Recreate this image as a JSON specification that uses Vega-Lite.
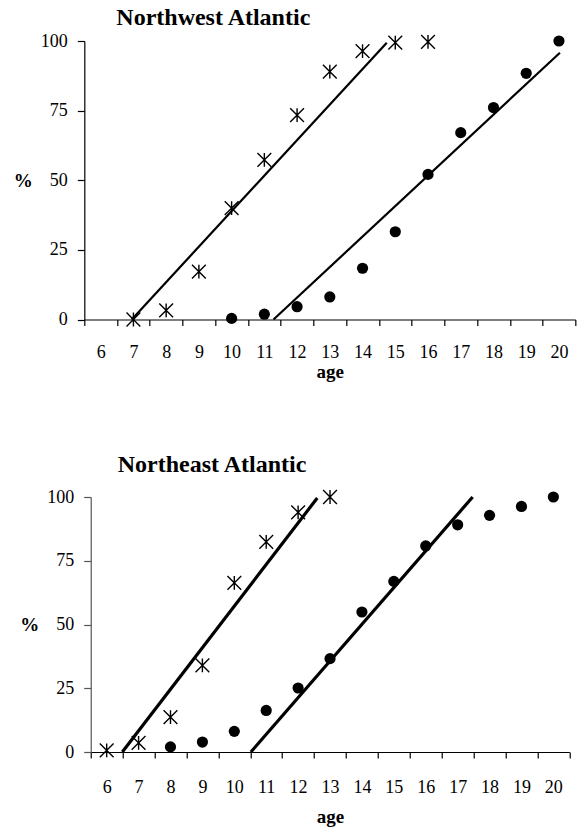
{
  "$schema": "https://vega.github.io/schema/vega-lite/v6.json",
  "background": "white",
  "padding": {"left": 13, "top": 6, "right": 2, "bottom": 2},
  "spacing": 71,
  "center": true,
  "config": {
    "font": "Liberation Serif",
    "view": {"stroke": null},
    "axis": {
      "grid": false,
      "domainColor": "black",
      "tickColor": "black",
      "domainWidth": 1.2,
      "tickWidth": 1.2,
      "labelFont": "Liberation Serif",
      "labelFontSize": 18,
      "labelFontWeight": "normal",
      "labelColor": "black",
      "titleFont": "Liberation Serif",
      "titleFontSize": 19,
      "titleFontWeight": "bold",
      "titleColor": "black"
    },
    "title": {"font": "Liberation Serif", "fontSize": 24, "fontWeight": "bold", "color": "black", "anchor": "start", "frame": "group"}
  },
  "datasets": {
    "nw": [
      {"series": "star", "age": 7, "pct": 0},
      {"series": "star", "age": 8, "pct": 3.3},
      {"series": "star", "age": 9, "pct": 17.2},
      {"series": "star", "age": 10, "pct": 40},
      {"series": "star", "age": 11, "pct": 57.3},
      {"series": "star", "age": 12, "pct": 73.4},
      {"series": "star", "age": 13, "pct": 89},
      {"series": "star", "age": 14, "pct": 96.4},
      {"series": "star", "age": 15, "pct": 99.4},
      {"series": "star", "age": 16, "pct": 99.7},
      {"series": "dot", "age": 10, "pct": 0.4},
      {"series": "dot", "age": 11, "pct": 1.9},
      {"series": "dot", "age": 12, "pct": 4.6},
      {"series": "dot", "age": 13, "pct": 8.1},
      {"series": "dot", "age": 14, "pct": 18.4},
      {"series": "dot", "age": 15, "pct": 31.5},
      {"series": "dot", "age": 16, "pct": 52.1},
      {"series": "dot", "age": 17, "pct": 67.1},
      {"series": "dot", "age": 18, "pct": 76.1},
      {"series": "dot", "age": 19, "pct": 88.4},
      {"series": "dot", "age": 20, "pct": 100}
    ],
    "nwfit": [
      {"series": "star", "age": 6.95, "pct": 0},
      {"series": "star", "age": 14.74, "pct": 99.4},
      {"series": "dot", "age": 11.28, "pct": 0},
      {"series": "dot", "age": 20.03, "pct": 95.8}
    ],
    "ne": [
      {"series": "star", "age": 6, "pct": 0.6},
      {"series": "star", "age": 7, "pct": 3.6},
      {"series": "star", "age": 8, "pct": 13.7},
      {"series": "star", "age": 9, "pct": 34},
      {"series": "star", "age": 10, "pct": 66.3},
      {"series": "star", "age": 11, "pct": 82.4},
      {"series": "star", "age": 12, "pct": 94},
      {"series": "star", "age": 13, "pct": 100},
      {"series": "dot", "age": 8, "pct": 2},
      {"series": "dot", "age": 9, "pct": 3.9},
      {"series": "dot", "age": 10, "pct": 8.1},
      {"series": "dot", "age": 11, "pct": 16.3},
      {"series": "dot", "age": 12, "pct": 25.1},
      {"series": "dot", "age": 13, "pct": 36.6},
      {"series": "dot", "age": 14, "pct": 54.9},
      {"series": "dot", "age": 15, "pct": 66.9},
      {"series": "dot", "age": 16, "pct": 80.8},
      {"series": "dot", "age": 17, "pct": 89.1},
      {"series": "dot", "age": 18, "pct": 92.8},
      {"series": "dot", "age": 19, "pct": 96.3},
      {"series": "dot", "age": 20, "pct": 100}
    ],
    "nefit": [
      {"series": "star", "age": 6.49, "pct": 0},
      {"series": "star", "age": 12.6, "pct": 99.6},
      {"series": "dot", "age": 10.52, "pct": 0},
      {"series": "dot", "age": 17.47, "pct": 100}
    ]
  },
  "vconcat": [
    {
      "width": 491,
      "height": 278.5,
      "title": {"text": "Northwest Atlantic", "dx": 32, "offset": 2},
      "encoding": {
        "x": {
          "field": "age", "type": "quantitative",
          "scale": {"domain": [5.5, 20.5], "nice": false, "zero": false},
          "axis": {
            "title": "age", "values": [5.5, 6.5, 7.5, 8.5, 9.5, 10.5, 11.5, 12.5, 13.5, 14.5, 15.5, 16.5, 17.5, 18.5, 19.5, 20.5],
            "labelExpr": "datum.value < 20 ? format(datum.value + 0.5, 'd') : ''",
            "labelOffset": 16.37, "labelOverlap": false, "labelFlush": false, "labelBound": false,
            "tickSize": 6, "labelPadding": 18, "titlePadding": 1
          }
        },
        "y": {
          "field": "pct", "type": "quantitative",
          "scale": {"domain": [0, 100], "nice": false},
          "axis": {
            "title": "%", "values": [0, 25, 50, 75, 100], "tickSize": 7, "labelPadding": 10,
            "titleAngle": 0, "titleAlign": "right", "titleBaseline": "middle", "titlePadding": 8
          }
        }
      },
      "layer": [
        {
          "data": {"name": "nwfit"},
          "mark": {"type": "line", "color": "black", "strokeWidth": 2.2},
          "encoding": {"detail": {"field": "series"}}
        },
        {
          "data": {"name": "nw"},
          "transform": [{"filter": "datum.series === 'star'"}],
          "mark": {"type": "point", "shape": "M-1,-1L1,1M-1,1L1,-1M0,-1L0,1", "filled": false, "stroke": "black", "strokeWidth": 1.4, "size": 190, "opacity": 1}
        },
        {
          "data": {"name": "nw"},
          "transform": [{"filter": "datum.series === 'dot'"}],
          "mark": {"type": "circle", "color": "black", "size": 125, "opacity": 1}
        }
      ]
    },
    {
      "width": 478.6,
      "height": 255,
      "title": {"text": "Northeast Atlantic", "dx": 27, "offset": 10},
      "encoding": {
        "x": {
          "field": "age", "type": "quantitative",
          "scale": {"domain": [5.5, 20.5], "nice": false, "zero": false},
          "axis": {
            "title": "age", "values": [5.5, 6.5, 7.5, 8.5, 9.5, 10.5, 11.5, 12.5, 13.5, 14.5, 15.5, 16.5, 17.5, 18.5, 19.5, 20.5],
            "labelExpr": "datum.value < 20 ? format(datum.value + 0.5, 'd') : ''",
            "labelOffset": 15.95, "labelOverlap": false, "labelFlush": false, "labelBound": false,
            "tickSize": 6, "labelPadding": 20, "titlePadding": 11
          }
        },
        "y": {
          "field": "pct", "type": "quantitative",
          "scale": {"domain": [0, 100], "nice": false},
          "axis": {
            "title": "%", "values": [0, 25, 50, 75, 100], "tickSize": 7, "labelPadding": 10,
            "domainColor": "#555555", "tickColor": "#555555",
            "titleAngle": 0, "titleAlign": "right", "titleBaseline": "middle", "titlePadding": 8
          }
        }
      },
      "layer": [
        {
          "data": {"name": "nefit"},
          "mark": {"type": "line", "color": "black", "strokeWidth": 3.2},
          "encoding": {"detail": {"field": "series"}}
        },
        {
          "data": {"name": "ne"},
          "transform": [{"filter": "datum.series === 'star'"}],
          "mark": {"type": "point", "shape": "M-1,-1L1,1M-1,1L1,-1M0,-1L0,1", "filled": false, "stroke": "black", "strokeWidth": 1.4, "size": 190, "opacity": 1}
        },
        {
          "data": {"name": "ne"},
          "transform": [{"filter": "datum.series === 'dot'"}],
          "mark": {"type": "circle", "color": "black", "size": 125, "opacity": 1}
        }
      ]
    }
  ]
}
